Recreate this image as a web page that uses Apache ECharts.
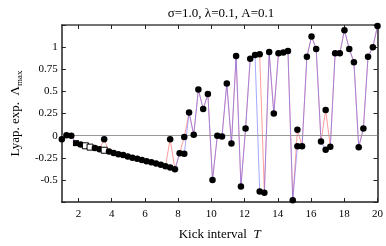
<!DOCTYPE html>
<html>
<head>
<meta charset="utf-8">
<script src="https://cdn.jsdelivr.net/npm/echarts@6/dist/echarts.min.js"></script>
<style>html,body{margin:0;padding:0;background:#fff}#c{width:386px;height:246px}</style>
</head>
<body>
<div id="c"></div>
<script>
// Kick interval T (x values)
var kickT = [1.00,1.28,1.57,1.85,2.13,2.42,2.70,2.99,3.27,3.55,3.84,4.12,4.40,4.69,4.97,5.25,5.54,5.82,6.10,6.39,6.67,6.96,7.24,7.52,7.81,8.09,8.37,8.66,8.94,9.22,9.51,9.79,10.07,10.36,10.64,10.93,11.21,11.49,11.78,12.06,12.34,12.63,12.91,13.19,13.48,13.76,14.04,14.33,14.61,14.90,15.18,15.46,15.75,16.03,16.31,16.60,16.88,17.16,17.45,17.73,18.01,18.30,18.58,18.87,19.15,19.43,19.72,20.00];
// Lyapunov exponent, blue run
var lyapBlue = [-0.04,0.005,0.0,-0.085,-0.10,-0.115,-0.13,-0.14,-0.155,-0.165,-0.18,-0.195,-0.21,-0.22,-0.235,-0.25,-0.26,-0.275,-0.29,-0.30,-0.315,-0.33,-0.345,-0.36,-0.38,-0.20,-0.205,0.26,0.01,0.52,0.30,0.47,-0.50,0.00,-0.01,0.59,-0.09,0.90,-0.575,0.08,0.87,0.91,-0.63,-0.645,0.945,0.25,0.93,0.94,0.955,-0.73,-0.12,-0.12,0.89,1.12,0.98,-0.065,-0.16,-0.125,0.93,0.93,1.19,0.98,0.83,-0.13,0.08,0.89,1.00,1.24];
// Lyapunov exponent, red run
var lyapRed = [-0.04,0.005,0.0,-0.085,-0.10,-0.115,-0.13,-0.14,-0.155,-0.04,-0.18,-0.195,-0.21,-0.22,-0.235,-0.25,-0.26,-0.275,-0.29,-0.30,-0.315,-0.33,-0.345,-0.04,-0.38,-0.20,-0.015,0.26,0.01,0.52,0.30,0.47,-0.50,0.00,-0.01,0.59,-0.09,0.90,-0.575,0.08,0.87,0.91,0.92,-0.645,0.945,0.25,0.93,0.94,0.955,-0.73,0.065,-0.12,0.89,1.12,0.98,-0.065,0.29,-0.125,0.93,0.93,1.19,0.98,0.83,-0.13,0.08,0.89,1.00,1.24];
// indices drawn as squares (blue run)
var filledSquareIdx = [3];
var hollowSquareIdx = [5,6,9];
var xTicks = [2,4,6,8,10,12,14,16,18,20];
var yTicks = [-0.5,-0.25,0,0.25,0.5,0.75,1];
var titleText = 'σ=1.0, λ=0.1, A=0.1';

var FONT = 'Liberation Serif';
function pairs(ys){ return kickT.map(function(t,i){ return [t, ys[i]]; }); }
var pts = [];
kickT.forEach(function(t,i){
  var it = {value:[t, lyapBlue[i]]};
  if (filledSquareIdx.indexOf(i) >= 0) { it.symbol = 'rect'; it.symbolSize = 6; }
  if (hollowSquareIdx.indexOf(i) >= 0) { it.symbol = 'rect'; it.symbolSize = 6; it.itemStyle = {color:'#fff', borderColor:'#000', borderWidth:1, opacity:1}; }
  pts.push(it);
  if (lyapRed[i] !== lyapBlue[i]) pts.push({value:[t, lyapRed[i]]});
});
function yFmt(v){ return yTicks.indexOf(v) >= 0 ? String(v) : ''; }

var chart = echarts.init(document.getElementById('c'), null, {renderer:'canvas'});
chart.setOption({
  animation:false,
  backgroundColor:'#fff',
  title:{text:titleText, left:216, top:2, textAlign:'center',
    textStyle:{fontFamily:FONT, fontSize:13, fontWeight:'normal', color:'#000'}},
  grid:{left:51.7, right:5.7, top:25, bottom:37, containLabel:false},
  xAxis:[{
    type:'value', min:1, max:20, position:'bottom',
    name:'Kick interval  {i|T}', nameLocation:'middle', nameGap:26,
    nameTextStyle:{fontFamily:FONT, fontSize:13, color:'#000', rich:{i:{fontFamily:FONT, fontSize:13, fontStyle:'italic', color:'#000'}}},
    axisLine:{show:true, onZero:false, lineStyle:{color:'#222', width:1.5}},
    axisTick:{show:true, inside:true, length:4, customValues:xTicks, lineStyle:{color:'#222'}},
    axisLabel:{show:true, customValues:xTicks, margin:7, fontFamily:FONT, fontSize:11, color:'#000'},
    splitLine:{show:false}
  },{
    type:'value', min:1, max:20, position:'top',
    axisLine:{show:true, onZero:false, lineStyle:{color:'#444', width:1.5}},
    axisTick:{show:true, inside:true, length:4, customValues:xTicks, lineStyle:{color:'#222'}},
    axisLabel:{show:false}, splitLine:{show:false}
  }],
  yAxis:[{
    type:'value', min:-0.75, max:1.25, interval:0.25, position:'left',
    name:'Lyap. exp.  Λ{s|max}', nameLocation:'middle', nameGap:36,
    nameTextStyle:{fontFamily:FONT, fontSize:13, color:'#000', lineHeight:16,
      rich:{s:{fontFamily:FONT, fontSize:9, color:'#000', verticalAlign:'bottom', lineHeight:16, padding:[6,0,0,0]}}},
    axisLine:{show:true, onZero:false, lineStyle:{color:'#222', width:1.5}},
    axisTick:{show:true, inside:true, length:4, lineStyle:{color:'#222'}},
    axisLabel:{show:true, margin:4, fontFamily:FONT, fontSize:11, color:'#000', formatter:yFmt},
    splitLine:{show:false}
  },{
    type:'value', min:-0.75, max:1.25, interval:0.25, position:'right',
    axisLine:{show:true, onZero:false, lineStyle:{color:'#222', width:1.5}},
    axisTick:{show:true, inside:true, length:4, lineStyle:{color:'#222'}},
    axisLabel:{show:false}, splitLine:{show:false}
  }],
  series:[{
    type:'line', data:pairs(lyapRed), showSymbol:false, z:2,
    lineStyle:{color:'#ff5a5a', width:1, opacity:0.6},
    markLine:{silent:true, symbol:'none', label:{show:false},
      lineStyle:{color:'#999', width:1, type:'solid'}, data:[{yAxis:0}]}
  },{
    type:'line', data:pairs(lyapBlue), showSymbol:false, z:3,
    lineStyle:{color:'#6a6aff', width:1, opacity:0.6}
  },{
    type:'scatter', data:pts, symbol:'circle', symbolSize:6.5, z:5,
    itemStyle:{color:'#000', opacity:1}
  }]
});
</script>
</body>
</html>
